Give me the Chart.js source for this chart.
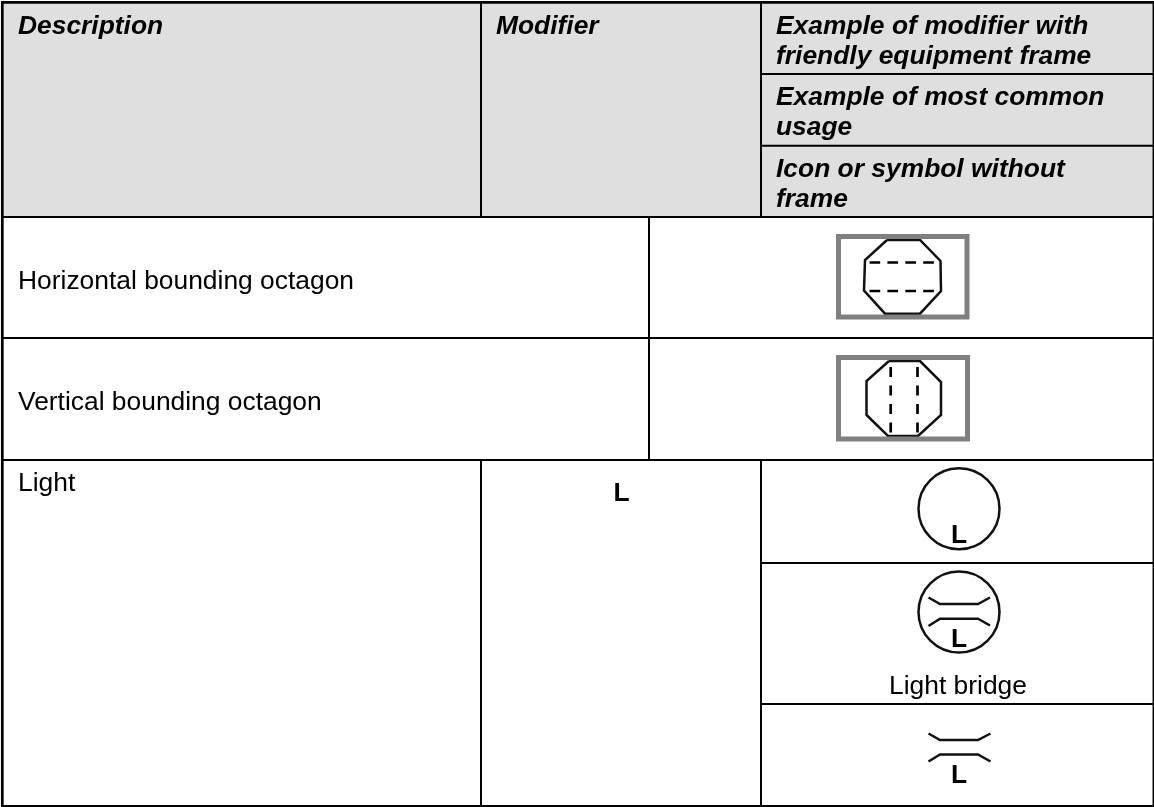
<!DOCTYPE html>
<html><head><meta charset="utf-8">
<style>html,body{margin:0;padding:0;background:#fff}canvas{display:block}</style>
<script src="https://cdn.jsdelivr.net/npm/chart.js@4/dist/chart.umd.min.js"></script>
</head><body><canvas id="c" width="1154" height="807"></canvas>
<script>
const headerBand = [[2,2],[1153,2]];
const headerBottom = 217;
const outerRules = [
 {pts:[[1,2.3],[1154,2.3]],w:2.7}, {pts:[[2.3,1],[2.3,807]],w:2.7},
 {pts:[[1153.3,1],[1153.3,807]],w:1.5}, {pts:[[1,806],[1154,806]],w:2}
];
const rules = [
 [[2,217],[1153,217]], [[481,2],[481,217]], [[761,2],[761,217]],
 [[761,74],[1153,74]], [[761,145.7],[1153,145.7]],
 [[2,338],[1153,338]], [[2,460],[1153,460]], [[649,217],[649,460]],
 [[481,460],[481,806]], [[761,460],[761,806]],
 [[761,563],[1153,563]], [[761,704],[1153,704]]
];
const frames = [
 [[838.5,236.5],[967,236.5],[967,317],[838.5,317],[838.5,236.5]],
 [[838.5,357.5],[967.5,357.5],[967.5,439],[838.5,439],[838.5,357.5]]
];
const octagons = [
 [[887,240],[920,240],[940.5,261],[941,291],[920,313.7],[885,313.7],[864,290.5],[865,260],[887,240]],
 [[889,361],[920,361],[941,382],[941,415],[918,436],[888,436],[866.5,415],[866.5,381],[889,361]]
];
const dashed = [
 {pts:[[869.5,262.5],[934,262.5]],dash:[10.7,7.2]},
 {pts:[[869.5,291],[934,291]],dash:[10.7,7.2]},
 {pts:[[890.7,367],[890.7,432.5]],dash:[10,8.5]},
 {pts:[[917.5,367],[917.5,432.5]],dash:[10,8.5]}
];
const circles = [[959,508.7],[959,612]];
const circleRadius = 40.5;
const bridges = [
 [[928.5,597.5],[940,604],[978,604],[990,597.5]],
 [[928.5,626],[940,618.7],[978,618.7],[990,625.5]],
 [[928.5,733.5],[940,740],[978,740],[990.5,733.5]],
 [[928.5,761.5],[940,754.5],[978,754.5],[990.5,761.5]]
];
const headerTexts = [
 ["Description",18,34],["Modifier",496,34],
 ["Example of modifier with",776,34],["friendly equipment frame",776,64],
 ["Example of most common",776,104.5],["usage",776,135],
 ["Icon or symbol without",776,176.5],["frame",776,206.5]
];
const bodyTexts = [
 ["Horizontal bounding octagon",18,288.5,"left"],
 ["Vertical bounding octagon",18,410,"left"],
 ["Light",18,491,"left"],
 ["Light bridge",958,694,"center"]
];
const symbolLabels = [["L",621.5,501],["L",959,543],["L",959,647],["L",959,783]];

const toPts = a => a.map(p => ({x:p[0],y:p[1]}));
const line = (pts,o={}) => ({data:toPts(pts),showLine:true,pointRadius:0,borderColor:'#000',borderWidth:2,fill:false,tension:0,...o});
const datasets = [
 ...outerRules.map(r=>line(r.pts,{borderWidth:r.w})),
 ...rules.map(r=>line(r,{borderWidth:2})),
 ...frames.map(f=>line(f,{borderColor:'#808080',borderWidth:5,borderCapStyle:'square',borderJoinStyle:'miter'})),
 ...octagons.map(o=>line(o,{borderWidth:2.5,borderColor:'#111'})),
 ...dashed.map(d=>line(d.pts,{borderWidth:2.7,borderDash:d.dash})),
 ...bridges.map(b=>line(b,{borderWidth:2.5,borderColor:'#111'})),
 {data:toPts(circles),showLine:false,pointStyle:'circle',pointRadius:circleRadius,pointBorderColor:'#111',pointBackgroundColor:'transparent',pointBorderWidth:2.5},
 line(headerBand,{borderWidth:0,borderColor:'#dfdfdf',backgroundColor:'#dfdfdf',fill:{target:{value:headerBottom}}})
];
const textPlugin = {id:'texts',afterDatasetsDraw(ch){
 const c=ch.ctx,X=ch.scales.x,Y=ch.scales.y;
 c.save();c.fillStyle='#000';c.textBaseline='alphabetic';
 c.font='italic bold 26.4px "Liberation Sans"';c.textAlign='left';
 headerTexts.forEach(t=>c.fillText(t[0],X.getPixelForValue(t[1]),Y.getPixelForValue(t[2])));
 c.font='26.4px "Liberation Sans"';
 bodyTexts.forEach(t=>{c.textAlign=t[3];c.fillText(t[0],X.getPixelForValue(t[1]),Y.getPixelForValue(t[2]))});
 c.font='bold 26.4px "Liberation Sans"';c.textAlign='center';
 symbolLabels.forEach(t=>c.fillText(t[0],X.getPixelForValue(t[1]),Y.getPixelForValue(t[2])));
 c.restore();
}};
new Chart(document.getElementById('c'),{type:'scatter',data:{datasets},plugins:[textPlugin],options:{
 responsive:false,animation:false,devicePixelRatio:1,layout:{padding:0,autoPadding:false},
 plugins:{legend:{display:false},tooltip:{enabled:false}},
 scales:{x:{type:'linear',min:0,max:1154,display:false},y:{type:'linear',min:0,max:807,reverse:true,display:false}}
}});
</script></body></html>
